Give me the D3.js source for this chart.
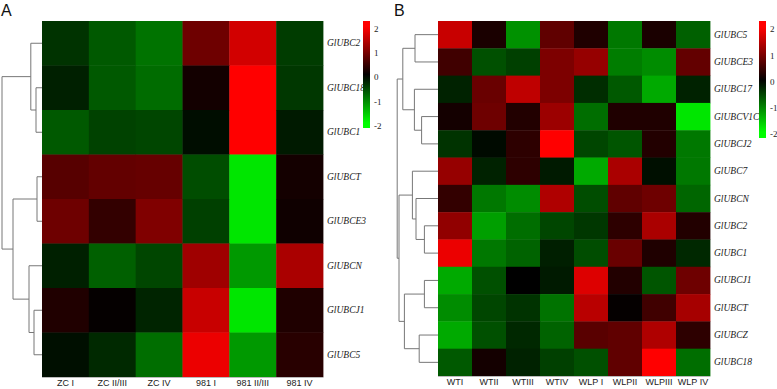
<!DOCTYPE html>
<html lang="en">
	<head>
		<meta charset="utf-8">
		<title>heatmaps</title>
		<script type="text/javascript" src="https://cdn.jsdelivr.net/npm/d3@7"></script>
		<style type="text/css">
			body { margin: 0; background: #fff; }
			.rowlab text { font-family: "Liberation Serif", "DejaVu Serif", serif; font-style: italic; font-size: 9.5px; fill: #222; }
			.collab text { font-family: "Liberation Sans", Arial, sans-serif; font-size: 9px; fill: #222; }
			.barax text { font-family: "Liberation Serif", serif; font-size: 9px; fill: #222; }
			.panel { font-family: "Liberation Sans", Arial, sans-serif; font-size: 16px; fill: #111; }
		</style>
	</head>
	<body>
        <svg width="777" height="389"></svg>
		<script type="text/javascript">

            // panel A
            const colsA = ['ZC I', 'ZC II/III', 'ZC IV', '981 I', '981 II/III', '981 IV'];
            const rowsA = ['GlUBC2', 'GlUBC18', 'GlUBC1', 'GlUBCT', 'GlUBCE3', 'GlUBCN', 'GlUBCJ1', 'GlUBC5'];
            const valuesA = [
                [-0.4, -0.7, -0.9, 0.86, 1.65, -0.47],
                [-0.25, -0.7, -0.85, 0.15, 2.2, -0.43],
                [-0.7, -0.52, -0.55, -0.1, 2.2, -0.2],
                [0.68, 0.78, 0.8, -0.6, -1.8, 0.16],
                [0.86, 0.4, 1.0, -0.5, -1.8, 0.12],
                [-0.25, -0.75, -0.55, 1.25, -1.2, 1.33],
                [0.25, 0.04, -0.28, 1.57, -1.8, 0.24],
                [-0.12, -0.32, -0.86, 1.85, -1.2, 0.31]
            ];
            // merge heights, leaves are row indices
            const treeA = [10, [2.8, 0, [1.5, 1, 2]], [7.25, [1.25, 3, 4], [3.25, 5, [2, 6, 7]]]];

            // panel B
            const colsB = ['WTI', 'WTII', 'WTIII', 'WTIV', 'WLP I', 'WLPII', 'WLPIII', 'WLP IV'];
            const rowsB = ['GlUBC5', 'GlUBCE3', 'GlUBC17', 'GlUBCV1C', 'GlUBCJ2', 'GlUBC7', 'GlUBCN',
                'GlUBC2', 'GlUBC1', 'GlUBCJ1', 'GlUBCT', 'GlUBCZ', 'GlUBC18'];
            const valuesB = [
                [1.57, 0.2, -1.14, 0.75, 0.24, -0.94, 0.2, -0.75],
                [0.5, -0.63, -0.5, 0.98, 1.18, -0.98, -1.1, 0.78],
                [-0.27, 0.82, 1.5, 0.98, -0.35, -0.7, -1.33, -0.27],
                [0.16, 0.86, 0.27, 1.22, -0.86, 0.24, 0.24, -1.8],
                [-0.4, -0.08, 0.35, 2.1, -0.55, -0.67, 0.27, -0.94],
                [1.18, -0.27, 0.35, -0.2, -1.33, 1.33, -0.12, -0.94],
                [0.4, -0.94, -1.1, 1.37, -0.6, 0.75, 0.86, -0.8],
                [1.14, -1.25, -0.86, -0.55, -0.43, 0.35, 1.33, 0.27],
                [1.85, -0.94, -0.78, -0.24, -0.6, 0.82, 0.24, -0.31],
                [-1.33, -0.63, 0, -0.2, 1.73, 0.27, -0.67, 0.86],
                [-1.1, -0.55, -0.4, -0.9, 1.45, 0.04, 0.5, 1.3],
                [-1.33, -0.63, -0.31, -0.78, 0.7, 0.75, 1.37, 0.35],
                [-0.7, 0.16, -0.27, -0.5, -0.63, 0.75, 2.1, -0.86]
            ];
            const treeB = [10.2,
                [8.8, [5.75, 0, 1], [5.9, 2, [4.1, 3, 4]]],
                [9.75, [6.4, 5, [5.5, 6, [3.4, 7, 8]]], [8.4, [3.4, 9, 10], [4.7, 11, 12]]]];

            const barTicks = [-2, -1, 0, 1, 2];

            const svg = d3.select('svg');
            const color = d3.scaleLinear()
                .domain([-2, 0, 2])
                .range(['#00ff00', '#000000', '#ff0000'])
                .clamp(true);

            // gradient for colour keys
            const grad = svg.append('defs').append('linearGradient')
                .attr('id', 'key').attr('x1', 0).attr('y1', 1).attr('x2', 0).attr('y2', 0);
            d3.range(0, 1.0001, 0.05).forEach(t => {
                grad.append('stop').attr('offset', t).attr('stop-color', color(-2.2 + t * 4.45));
            });

            function drawPanel(opt) {
                const { cols, rows, values, tree, left, right, top, bottom, key } = opt;
                const x = d3.scaleBand().domain(cols).range([left, right]);
                const y = d3.scaleBand().domain(rows).range([top, bottom]);
                const g = svg.append('g');

                values.forEach((row, i) => {
                    g.selectAll(null).data(row)
                        .enter().append('rect')
                        .attr('x', (d, j) => x(cols[j]))
                        .attr('y', y(rows[i]))
                        .attr('width', x.bandwidth() + 0.4)
                        .attr('height', y.bandwidth() + 0.4)
                        .attr('fill', d => color(d));
                });

                g.append('line')
                    .attr('x1', left).attr('x2', right)
                    .attr('y1', bottom + 0.5).attr('y2', bottom + 0.5)
                    .attr('stroke', '#bbb');

                // row labels
                const rowAxis = d3.axisRight(y).tickSize(0).tickPadding(4);
                g.append('g').attr('class', 'rowlab')
                    .attr('transform', `translate(${right}, 0)`)
                    .call(rowAxis)
                    .call(a => a.select('.domain').remove());

                // column labels
                const colAxis = d3.axisBottom(x).tickSize(0).tickPadding(3);
                g.append('g').attr('class', 'collab')
                    .attr('transform', `translate(0, ${bottom})`)
                    .call(colAxis)
                    .call(a => a.select('.domain').remove());

                // dendrogram
                const hx = d3.scaleLinear().domain([0, 10]).range([left, left - 40]);
                const yc = i => y(rows[i]) + y.bandwidth() / 2;
                const dg = g.append('g').attr('fill', 'none').attr('stroke', '#777').attr('stroke-width', 1);
                const walk = node => {
                    if (typeof node === 'number') return { x: hx(0), y: yc(node) };
                    const a = walk(node[1]);
                    const b = walk(node[2]);
                    const nx = hx(node[0]);
                    dg.append('path')
                        .attr('d', `M${a.x},${a.y}H${nx}V${b.y}H${b.x}`);
                    return { x: nx, y: (a.y + b.y) / 2 };
                };
                walk(tree);

                // colour key
                const ks = d3.scaleLinear().domain(key.domain).range([key.y1, key.y0]);
                g.append('rect')
                    .attr('x', key.x).attr('y', key.y0)
                    .attr('width', 7).attr('height', key.y1 - key.y0)
                    .attr('fill', 'url(#key)');
                g.append('g').attr('class', 'barax')
                    .attr('transform', `translate(${key.x + 7}, 0)`)
                    .call(d3.axisRight(ks).tickValues(barTicks).tickSize(0).tickPadding(4).tickFormat(d => String(d)))
                    .call(a => a.select('.domain').remove());
            }

            drawPanel({
                cols: colsA, rows: rowsA, values: valuesA, tree: treeA,
                left: 42, right: 323, top: 21, bottom: 377,
                key: { x: 363, y0: 21, y1: 128, domain: [-2.1, 2.3] }
            });

            drawPanel({
                cols: colsB, rows: rowsB, values: valuesB, tree: treeB,
                left: 438, right: 710, top: 21, bottom: 376,
                key: { x: 759, y0: 21, y1: 138, domain: [-2.15, 2.3] }
            });

            svg.append('text').attr('class', 'panel').attr('x', 1).attr('y', 16).text('A');
            svg.append('text').attr('class', 'panel').attr('x', 394).attr('y', 16).text('B');

		</script>
	</body>
</html>
